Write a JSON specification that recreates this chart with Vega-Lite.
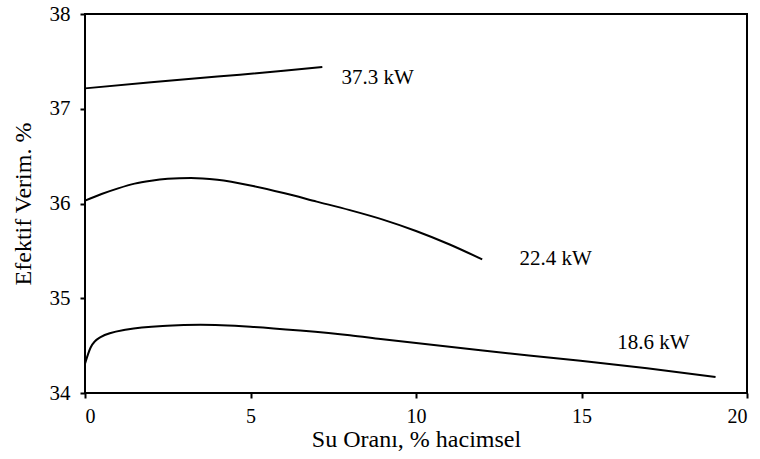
{
  "$schema": "https://vega.github.io/schema/vega-lite/v6.json",
  "width": 662,
  "height": 379,
  "autosize": "none",
  "padding": {"left": 85, "top": 14, "right": 13, "bottom": 66},
  "background": "white",
  "config": {
    "view": {"stroke": "black", "strokeWidth": 2},
    "font": "Liberation Serif",
    "axis": {"labelFont": "Liberation Serif", "titleFont": "Liberation Serif"},
    "text": {"font": "Liberation Serif"}
  },
  "datasets": {
    "curves": [
      {"seri": "37.3 kW", "x": 0, "y": 37.215},
      {"seri": "37.3 kW", "x": 2, "y": 37.28},
      {"seri": "37.3 kW", "x": 4, "y": 37.34},
      {"seri": "37.3 kW", "x": 6, "y": 37.40},
      {"seri": "37.3 kW", "x": 7.17, "y": 37.44},
      {"seri": "22.4 kW", "x": 0, "y": 36.03},
      {"seri": "22.4 kW", "x": 0.5, "y": 36.1},
      {"seri": "22.4 kW", "x": 1, "y": 36.16},
      {"seri": "22.4 kW", "x": 1.5, "y": 36.21},
      {"seri": "22.4 kW", "x": 2, "y": 36.24},
      {"seri": "22.4 kW", "x": 2.5, "y": 36.26},
      {"seri": "22.4 kW", "x": 3.2, "y": 36.27},
      {"seri": "22.4 kW", "x": 4, "y": 36.25},
      {"seri": "22.4 kW", "x": 5, "y": 36.19},
      {"seri": "22.4 kW", "x": 6, "y": 36.11},
      {"seri": "22.4 kW", "x": 7, "y": 36.02},
      {"seri": "22.4 kW", "x": 8, "y": 35.93},
      {"seri": "22.4 kW", "x": 9, "y": 35.83},
      {"seri": "22.4 kW", "x": 10, "y": 35.71},
      {"seri": "22.4 kW", "x": 11, "y": 35.57},
      {"seri": "22.4 kW", "x": 12, "y": 35.41},
      {"seri": "18.6 kW", "x": 0, "y": 34.31},
      {"seri": "18.6 kW", "x": 0.17, "y": 34.48},
      {"seri": "18.6 kW", "x": 0.47, "y": 34.59},
      {"seri": "18.6 kW", "x": 1.27, "y": 34.67},
      {"seri": "18.6 kW", "x": 2.48, "y": 34.71},
      {"seri": "18.6 kW", "x": 3.49, "y": 34.72},
      {"seri": "18.6 kW", "x": 5, "y": 34.70},
      {"seri": "18.6 kW", "x": 6.5, "y": 34.66},
      {"seri": "18.6 kW", "x": 8, "y": 34.61},
      {"seri": "18.6 kW", "x": 8.93, "y": 34.57},
      {"seri": "18.6 kW", "x": 11.95, "y": 34.45},
      {"seri": "18.6 kW", "x": 14.97, "y": 34.34},
      {"seri": "18.6 kW", "x": 16.98, "y": 34.26},
      {"seri": "18.6 kW", "x": 19.05, "y": 34.17}
    ],
    "labels": [
      {"label": "37.3 kW", "x": 7.75, "y": 37.32},
      {"label": "22.4 kW", "x": 13.13, "y": 35.41},
      {"label": "18.6 kW", "x": 16.08, "y": 34.53}
    ]
  },
  "layer": [
    {
      "data": {"name": "curves"},
      "mark": {"type": "line", "color": "black", "strokeWidth": 2, "interpolate": "monotone"},
      "encoding": {
        "x": {
          "field": "x", "type": "quantitative",
          "scale": {"domain": [0, 20], "nice": false, "zero": false},
          "axis": {
            "title": "Su Oranı, % hacimsel",
            "values": [0, 5, 10, 15, 20],
            "format": "d",
            "grid": false, "domain": false,
            "tickColor": "black", "tickWidth": 2, "tickSize": 5,
            "labelFontSize": 20, "labelColor": "black",
            "labelPadding": 8,
            "titleFontSize": 24, "titleFontWeight": "normal",
            "titleColor": "black", "titlePadding": 1
          }
        },
        "y": {
          "field": "y", "type": "quantitative",
          "scale": {"domain": [34, 38], "nice": false, "zero": false},
          "axis": {
            "title": "Efektif  Verim. %",
            "values": [34, 35, 36, 37, 38],
            "format": "d",
            "grid": false, "domain": false,
            "tickColor": "black", "tickWidth": 2, "tickSize": 5,
            "labelFontSize": 21, "labelColor": "black",
            "labelPadding": 10,
            "titleFontSize": 24, "titleFontWeight": "normal",
            "titleColor": "black", "titlePadding": 14
          }
        },
        "detail": {"field": "seri"}
      }
    },
    {
      "data": {"name": "labels"},
      "mark": {"type": "text", "align": "left", "baseline": "middle", "fontSize": 21, "color": "black"},
      "encoding": {
        "x": {"field": "x", "type": "quantitative"},
        "y": {"field": "y", "type": "quantitative"},
        "text": {"field": "label"}
      }
    }
  ]
}
